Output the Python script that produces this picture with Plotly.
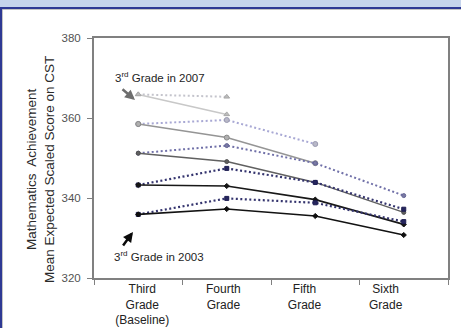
import plotly.graph_objects as go

# Grade levels and the mean expected scaled score for each 3rd-grade cohort
grades = ["Third", "Fourth", "Fifth", "Sixth"]
grade_labels = ["Third<br>Grade<br>(Baseline)", "Fourth<br>Grade", "Fifth<br>Grade", "Sixth<br>Grade"]

cohort_2003_solid = [335.9, 337.25, 335.5, 330.75]
cohort_2003_dotted = [335.9, 339.9, 338.8, 334.1]
cohort_2004_solid = [343.25, 343.0, 339.6, 333.4]
cohort_2004_dotted = [343.25, 347.4, 343.9, 337.2]
cohort_2005_solid = [351.2, 349.1, 343.9, 336.4]
cohort_2005_dotted = [351.2, 353.1, 348.7, 340.6]
cohort_2006_solid = [358.5, 355.1, 348.7]
cohort_2006_dotted = [358.5, 359.5, 353.5]
cohort_2007_solid = [365.9, 360.9]
cohort_2007_dotted = [365.9, 365.3]

y_ticks = [320, 340, 360, 380]

FONT = "Liberation Sans, Arial, sans-serif"
DOT = "2px,2.5px"

# (values, line colour, dash, width, marker symbol, marker fill, marker outline, marker size)
series = [
    (cohort_2007_dotted, "#c4c4cc", DOT, 2, "triangle-up", "#bcbcbc", "#a8a8a8", 5),
    (cohort_2007_solid, "#c8c8c8", "solid", 1.5, "triangle-up", "#bcbcbc", "#a8a8a8", 5),
    (cohort_2006_dotted, "#a8a8d4", DOT, 2, "circle", "#b8b8c8", "#9a9ab0", 5),
    (cohort_2006_solid, "#959595", "solid", 1.5, "circle", "#b0b0b0", "#8a8a8a", 5),
    (cohort_2005_dotted, "#7070a8", DOT, 2, "circle", "#7a7aa4", "#646494", 4),
    (cohort_2005_solid, "#606060", "solid", 1.5, "circle", "#606060", "#505050", 4),
    (cohort_2004_dotted, "#34346e", DOT, 2.2, "square", "#26265e", "#1e1e52", 4),
    (cohort_2004_solid, "#181818", "solid", 1.7, "diamond", "#141414", "#141414", 4),
    (cohort_2003_dotted, "#34346e", DOT, 2.2, "square", "#26265e", "#1e1e52", 4),
    (cohort_2003_solid, "#121212", "solid", 1.7, "diamond", "#0e0e0e", "#0e0e0e", 4),
]

fig = go.Figure()
for vals, col, dash, w, sym, mfill, mline, msz in series:
    fig.add_trace(go.Scatter(
        x=grades[:len(vals)], y=vals, mode="lines+markers",
        line=dict(color=col, dash=dash, width=w),
        marker=dict(symbol=sym, color=mfill, size=msz, line=dict(color=mline, width=1)),
        showlegend=False, hoverinfo="skip",
    ))

# carrier trace for the label axis
fig.add_trace(go.Scatter(x=[0], y=[350], xaxis="x2", mode="markers",
                         marker=dict(opacity=0), showlegend=False, hoverinfo="skip"))

W, H = 461, 328
ML, MR, MT, MB = 94, 13, 38, 50
PW, PH = W - ML - MR, H - MT - MB


def px(x):
    return (x - ML) / PW


def py(y):
    return (H - MB - y) / PH


shapes = [
    # blue outer frame
    dict(type="rect", xref="paper", yref="paper", x0=px(0), x1=px(W), y0=py(H), y1=py(0),
         fillcolor="#2e3994", line=dict(width=0), layer="below"),
    # light patterned band along the top
    dict(type="rect", xref="paper", yref="paper", x0=px(0), x1=px(W), y0=py(7), y1=py(0),
         fillcolor="#c6d4ec", line=dict(width=0), layer="below"),
    # white panel
    dict(type="rect", xref="paper", yref="paper", x0=px(2.5), x1=px(W + 2), y0=py(H + 2), y1=py(9.5),
         fillcolor="#ffffff", line=dict(color="#c4c4c4", width=1), layer="below"),
]

annotations = [
    dict(text="Mathematics  Achievement<br>Mean Expected Scaled Score on CST",
         xref="paper", yref="paper", x=px(40), y=py(170), xanchor="center", yanchor="middle",
         textangle=-90, showarrow=False,
         font=dict(family=FONT, size=13.5, color="#2a2a2a"), align="center"),
    dict(text="3<sup>rd</sup> Grade in 2007", xref="paper", yref="paper", x=px(160), y=py(77),
         xanchor="center", yanchor="middle",
         showarrow=False, font=dict(family=FONT, size=11.5, color="#1e1e1e")),
    dict(text="3<sup>rd</sup> Grade in 2003", xref="paper", yref="paper", x=px(159), y=py(256),
         xanchor="center", yanchor="middle",
         showarrow=False, font=dict(family=FONT, size=11.5, color="#1e1e1e")),
    dict(text="", xref="paper", yref="paper", x=px(135), y=py(100), ax=-14, ay=-12,
         showarrow=True, arrowhead=2, arrowsize=0.8, arrowwidth=2.5, arrowcolor="#6e6e6e"),
    dict(text="", xref="paper", yref="paper", x=px(133), y=py(232), ax=-11, ay=15,
         showarrow=True, arrowhead=2, arrowsize=0.8, arrowwidth=2.5, arrowcolor="#0a0a0a"),
]

fig.update_layout(
    width=W, height=H,
    margin=dict(l=ML, r=MR, t=MT, b=MB, autoexpand=False),
    paper_bgcolor="#ffffff",
    plot_bgcolor="rgba(0,0,0,0)",
    shapes=shapes,
    annotations=annotations,
    xaxis=dict(type="category", categoryorder="array", categoryarray=grades,
               range=[-0.5, 3.5], showticklabels=False, tickson="boundaries",
               ticks="outside", ticklen=5, tickcolor="#808080", automargin=False,
               showline=True, linecolor="#808080", linewidth=2, mirror=True,
               showgrid=False, zeroline=False),
    xaxis2=dict(overlaying="x", side="bottom", range=[-0.595, 3.769],
                tickmode="array", tickvals=[0, 1, 2, 3], ticktext=grade_labels,
                ticks="", showline=False, showgrid=False, zeroline=False,
                ticklabelstandoff=2, automargin=False,
                tickfont=dict(family=FONT, size=12, color="#222222")),
    yaxis=dict(range=[320, 380], tickvals=y_ticks, ticks="outside", ticklen=5,
               tickcolor="#808080", showline=True, linecolor="#808080", linewidth=2,
               mirror=True, showgrid=False, zeroline=False, ticklabelstandoff=4,
               automargin=False,
               tickfont=dict(family=FONT, size=11.5, color="#525252")),
    font=dict(family=FONT),
)

fig.write_html("out.html")
